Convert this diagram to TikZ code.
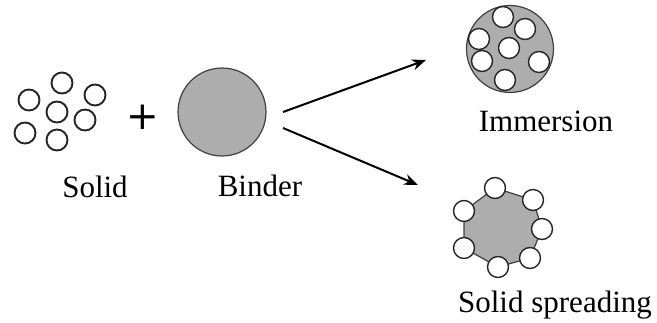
\documentclass[tikz,border=0pt]{standalone}
\usepackage{fontspec}
\setmainfont{Liberation Serif}
\newfontfamily\plusfont{DejaVu Sans}
\usetikzlibrary{arrows.meta}
\tikzset{
  granulo/.style={circle,draw=black!85,line width=1.9pt,fill=white,minimum size=21pt,inner sep=0pt},
  legante/.style={circle,draw=black!75,line width=1.2pt,fill=black!32,inner sep=0pt},
  etichetta/.style={font=\fontsize{31}{37}\selectfont,anchor=base,inner sep=0pt},
  freccia/.style={line width=2pt,-{Stealth[length=14pt,width=11pt]}}
}
\begin{document}
\begin{tikzpicture}[x=1pt,y=-1pt]
                \useasboundingbox (0,0) rectangle (657,322);
                %granuli di solido
                \node[granulo] (s1) at (62,83) {};
                \node[granulo] (s2) at (95,95) {};
                \node[granulo] (s3) at (29,100) {};
                \node[granulo] (s4) at (57,112) {};
                \node[granulo] (s5) at (85,120) {};
                \node[granulo] (s6) at (25,133) {};
                \node[granulo] (s7) at (57,140) {};
                %segno piu
                \node[inner sep=0pt] (piu) at (143,117) {\plusfont\fontsize{39}{39}\selectfont +};
                %goccia di legante
                \node[legante,minimum size=88pt] (binder) at (222,112) {};
                %frecce
                \coordinate (p1) at (283,112);
                \coordinate (p2) at (283,128);
                \coordinate (a1) at (426,60);
                \coordinate (a2) at (418,185);
                \draw[freccia] (p1) -- (a1);
                \draw[freccia] (p2) -- (a2);
                %immersione
                \node[legante,minimum size=87pt] (imm) at (510,49) {};
                \node[granulo,line width=1.4pt] (i1) at (503,17) {};
                \node[granulo,line width=1.4pt] (i2) at (525,29) {};
                \node[granulo,line width=1.4pt] (i3) at (479,39) {};
                \node[granulo,line width=1.4pt] (i4) at (509,48) {};
                \node[granulo,line width=1.4pt] (i5) at (482,61) {};
                \node[granulo,line width=1.4pt] (i6) at (539,62) {};
                \node[granulo,line width=1.4pt] (i7) at (505,80) {};
                %spreading: poligono con i granuli sui vertici
                \coordinate (v1) at (495,188);
                \coordinate (v2) at (533,200);
                \coordinate (v3) at (542,229);
                \coordinate (v4) at (530,258);
                \coordinate (v5) at (498,267);
                \coordinate (v6) at (464,248);
                \coordinate (v7) at (464,211);
                \draw[draw=black!75,line width=1.2pt,fill=black!32] (v1) -- (v2) -- (v3) -- (v4) -- (v5) -- (v6) -- (v7) -- cycle;
                \node[granulo,line width=1.4pt] (g1) at (v1) {};
                \node[granulo,line width=1.4pt] (g2) at (v2) {};
                \node[granulo,line width=1.4pt] (g3) at (v3) {};
                \node[granulo,line width=1.4pt] (g4) at (v4) {};
                \node[granulo,line width=1.4pt] (g5) at (v5) {};
                \node[granulo,line width=1.4pt] (g6) at (v6) {};
                \node[granulo,line width=1.4pt] (g7) at (v7) {};
                %scritte
                \node[etichetta] (lsolid) at (95,197) {Solid};
                \node[etichetta] (lbinder) at (260,196) {Binder};
                \node[etichetta] (limm) at (546,131) {Immersion};
                \node[etichetta] (lspread) at (555,312) {Solid spreading};
            \end{tikzpicture}
\end{document}
